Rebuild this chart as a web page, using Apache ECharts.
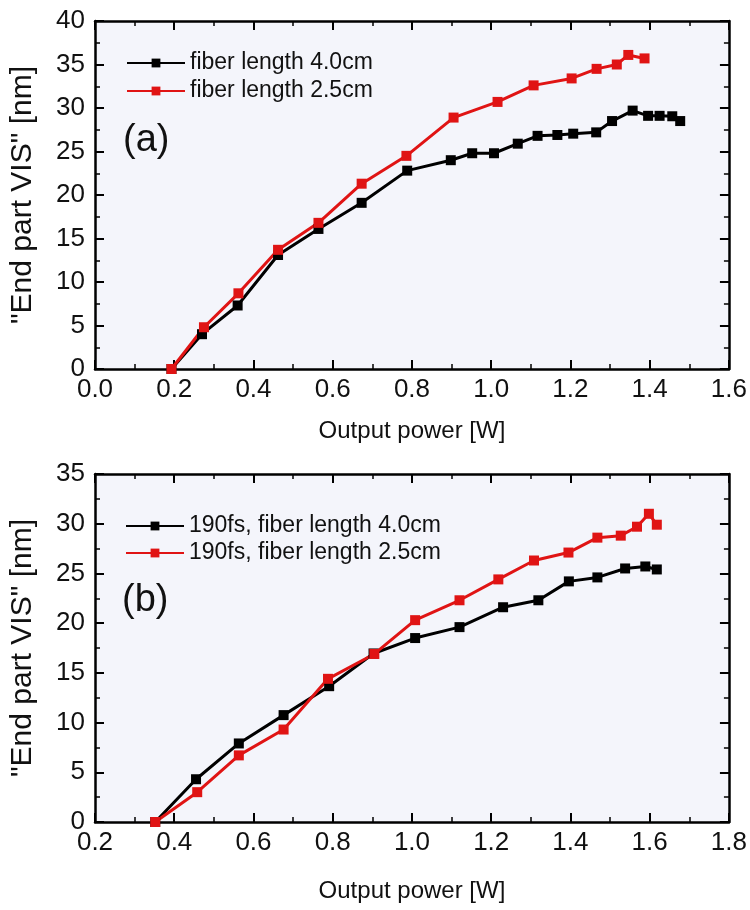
<!DOCTYPE html>
<html>
<head>
<meta charset="utf-8">
<script src="https://cdn.jsdelivr.net/npm/echarts@6/dist/echarts.min.js"></script>
<style>
  html, body { margin: 0; padding: 0; background: #fff; }
  #chart { width: 750px; height: 910px; }
</style>
</head>
<body>
<div id="chart"></div>
<script>
// (a) output power [W] and end part VIS [nm]
var powerA40 = [0.193, 0.27, 0.36, 0.462, 0.564, 0.673, 0.788, 0.898, 0.952, 1.007, 1.067, 1.117, 1.167, 1.207, 1.265, 1.305, 1.357, 1.396, 1.425, 1.457, 1.477];
var visA40   = [0, 4.0, 7.3, 13.1, 16.1, 19.1, 22.8, 24.0, 24.8, 24.8, 25.9, 26.8, 26.9, 27.05, 27.2, 28.5, 29.7, 29.1, 29.1, 29.05, 28.5];
var powerA25 = [0.193, 0.275, 0.362, 0.462, 0.564, 0.673, 0.786, 0.905, 1.016, 1.107, 1.203, 1.266, 1.317, 1.346, 1.387];
var visA25   = [0, 4.8, 8.7, 13.7, 16.8, 21.3, 24.5, 28.9, 30.7, 32.6, 33.4, 34.5, 35.0, 36.1, 35.7];
// (b) 190fs
var powerB40 = [0.352, 0.455, 0.563, 0.676, 0.791, 0.903, 1.008, 1.12, 1.23, 1.319, 1.396, 1.468, 1.538, 1.589, 1.618];
var visB40   = [0, 4.3, 7.9, 10.75, 13.66, 16.95, 18.5, 19.6, 21.6, 22.3, 24.2, 24.6, 25.5, 25.7, 25.4];
var powerB25 = [0.352, 0.458, 0.563, 0.676, 0.788, 0.905, 1.008, 1.12, 1.218, 1.308, 1.395, 1.468, 1.527, 1.568, 1.598, 1.618];
var visB25   = [0, 3.0, 6.7, 9.3, 14.4, 16.9, 20.3, 22.3, 24.4, 26.3, 27.1, 28.6, 28.8, 29.7, 31.0, 29.9];

var namesA = ['fiber length 4.0cm', 'fiber length 2.5cm'];
var namesB = ['190fs, fiber length 4.0cm', '190fs, fiber length 2.5cm'];

function pairs(xs, ys) {
  var out = [];
  for (var i = 0; i < xs.length; i++) out.push([xs[i], ys[i]]);
  return out;
}

var FONT = "'Liberation Sans', Arial, sans-serif";
var RED = '#E01414';

function xAx(grid, min, max, pos, label, nameGap) {
  return {
    type: 'value', gridIndex: grid, min: min, max: max, interval: 0.2, position: pos,
    name: label ? 'Output power [W]' : '', nameLocation: 'middle', nameGap: nameGap,
    nameTextStyle: { color: '#111', fontSize: 24, fontFamily: FONT },
    axisLine: { show: true, onZero: false, lineStyle: { color: '#000', width: 2.5 } },
    axisTick: { show: true, inside: true, length: 9, lineStyle: { color: '#000', width: 2 } },
    minorTick: { show: true, splitNumber: 2, length: 5, lineStyle: { color: '#000', width: 1.5 } },
    splitLine: { show: false },
    axisLabel: {
      show: label, margin: 8, color: '#111', fontSize: 26, fontFamily: FONT,
      formatter: function (v) { return v.toFixed(1); }
    }
  };
}

function yAx(grid, max, pos, label) {
  return {
    type: 'value', gridIndex: grid, min: 0, max: max, interval: 5, position: pos,
    name: label ? '"End part VIS" [nm]' : '', nameLocation: 'middle', nameGap: 57,
    nameTextStyle: { color: '#111', fontSize: 30, fontFamily: FONT },
    axisLine: { show: true, onZero: false, lineStyle: { color: '#000', width: 2.5 } },
    axisTick: { show: true, inside: true, length: 9, lineStyle: { color: '#000', width: 2 } },
    minorTick: { show: true, splitNumber: 2, length: 5, lineStyle: { color: '#000', width: 1.5 } },
    splitLine: { show: false },
    axisLabel: { show: label, margin: 10, color: '#111', fontSize: 26, fontFamily: FONT }
  };
}

function line(name, data, color, xi, yi) {
  return {
    name: name, type: 'line', data: data, xAxisIndex: xi, yAxisIndex: yi,
    symbol: 'rect', symbolSize: 10, showSymbol: true,
    lineStyle: { color: color, width: 3 },
    itemStyle: { color: color },
    animation: false
  };
}

var myChart = echarts.init(document.getElementById('chart'));
var option = {
  backgroundColor: '#fff',
  grid: [
    { left: 93, top: 21, width: 639, height: 348, show: true, backgroundColor: '#F4F5FB', borderWidth: 0 },
    { left: 93, top: 474, width: 639, height: 348, show: true, backgroundColor: '#F4F5FB', borderWidth: 0 }
  ],
  xAxis: [
    xAx(0, 0, 1.6, 'bottom', true, 50),
    xAx(0, 0, 1.6, 'top', false, 0),
    xAx(1, 0.2, 1.8, 'bottom', true, 57),
    xAx(1, 0.2, 1.8, 'top', false, 0)
  ],
  yAxis: [
    yAx(0, 40, 'left', true),
    yAx(0, 40, 'right', false),
    yAx(1, 35, 'left', true),
    yAx(1, 35, 'right', false)
  ],
  legend: [
    {
      data: namesA, orient: 'vertical', left: 121, top: 46, itemWidth: 58, itemHeight: 11, itemGap: 4,
      textStyle: { color: '#111', fontSize: 23, fontFamily: FONT, lineHeight: 24 }
    },
    {
      data: namesB, orient: 'vertical', left: 120, top: 509, itemWidth: 58, itemHeight: 11, itemGap: 3,
      textStyle: { color: '#111', fontSize: 23, fontFamily: FONT, lineHeight: 24 }
    }
  ],
  graphic: [
    { type: 'text', left: 123, top: 122, style: { text: '(a)', fontSize: 38, fontFamily: FONT, fill: '#111' } },
    { type: 'text', left: 122, top: 582, style: { text: '(b)', fontSize: 38, fontFamily: FONT, fill: '#111' } }
  ],
  series: [
    line(namesA[0], pairs(powerA40, visA40), '#000', 0, 0),
    line(namesA[1], pairs(powerA25, visA25), RED, 0, 0),
    line(namesB[0], pairs(powerB40, visB40), '#000', 2, 2),
    line(namesB[1], pairs(powerB25, visB25), RED, 2, 2)
  ]
};
myChart.setOption(option);
window.addEventListener('resize', function () {
  myChart.resize();
});
</script>
</body>
</html>
